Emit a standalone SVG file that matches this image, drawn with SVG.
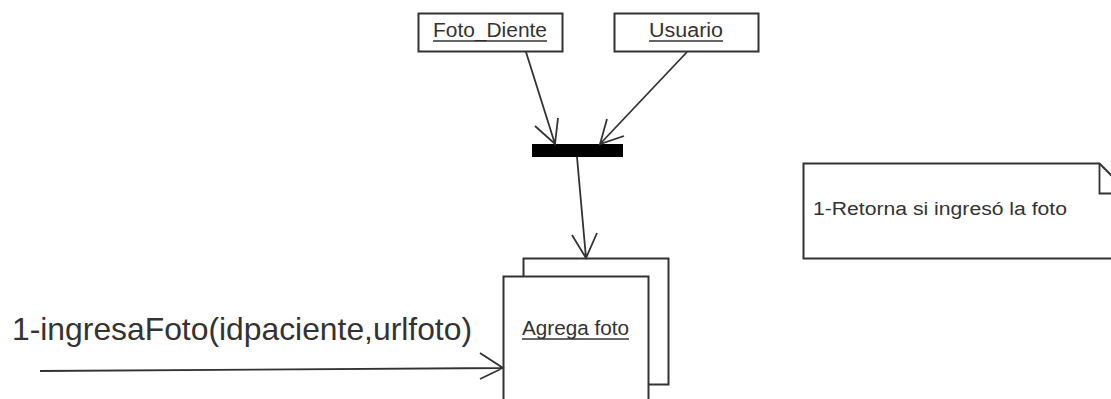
<svg xmlns="http://www.w3.org/2000/svg" width="1111" height="399" viewBox="0 0 1111 399">
<style>
.box{fill:#fff;stroke:#333;stroke-width:2}
.lbl{font-family:"Liberation Sans",Arial,sans-serif;fill:#333}
.ul{stroke:#333;stroke-width:1.5}
.edge{fill:none;stroke:#333;stroke-width:1.8}
</style>
<rect width="1111" height="399" fill="#fff"/>
<g id="foto_diente">
<rect class="box" x="418.5" y="13.5" width="144" height="38"/>
<text class="lbl" x="433" y="37" font-size="19.5" textLength="114" lengthAdjust="spacingAndGlyphs">Foto_Diente</text>
<line class="ul" x1="433" y1="41" x2="547" y2="41"/>
</g>
<g id="usuario">
<rect class="box" x="614.5" y="13.5" width="144" height="38"/>
<text class="lbl" x="649" y="37" font-size="20" textLength="74" lengthAdjust="spacingAndGlyphs">Usuario</text>
<line class="ul" x1="649" y1="41" x2="723" y2="41"/>
</g>
<g id="join">
<rect x="532" y="144" width="91" height="13" fill="#000"/>
</g>
<g id="agrega_foto">
<rect class="box" x="523.5" y="258.5" width="145" height="126"/>
<rect class="box" x="503.5" y="276.5" width="145" height="130"/>
<text class="lbl" x="522" y="335" font-size="20.5" textLength="107" lengthAdjust="spacingAndGlyphs">Agrega foto</text>
<line class="ul" x1="522" y1="339" x2="629" y2="339"/>
</g>
<g id="note">
<path class="box" d="M803.5,163.5 L1099.5,163.5 L1129.5,193.5 L1129.5,258.5 L803.5,258.5 Z"/>
<path class="edge" d="M1099.5,163.5 L1099.5,193.5 L1129.5,193.5"/>
<text class="lbl" x="813" y="215" font-size="18" textLength="254" lengthAdjust="spacingAndGlyphs">1-Retorna si ingresó la foto</text>
</g>
<g id="message">
<text class="lbl" x="12" y="340" font-size="32" textLength="460" lengthAdjust="spacingAndGlyphs">1-ingresaFoto(idpaciente,urlfoto)</text>
</g>
<g id="connectors">
<path class="edge" d="M526,52 L555,144 M535,126 L555,144 L558,118"/>
<path class="edge" d="M687,52 L600,144 M607,119 L600,144 L624,136"/>
<path class="edge" d="M577,157 L586,258 M572,235 L586,258 L597,233"/>
<path class="edge" d="M40,371 L503,368 M480,353 L503,368 L480,379"/>
</g>
</svg>
